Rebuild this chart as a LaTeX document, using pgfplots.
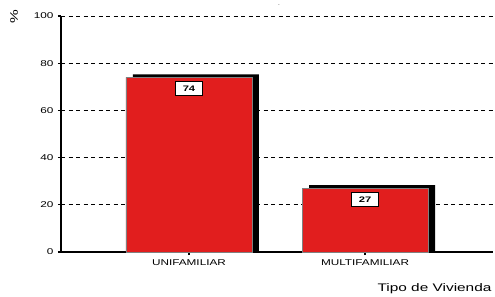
\documentclass[border=0pt]{standalone}
\usepackage{pgfplots}
\pgfplotsset{compat=1.18}
\usepackage{fontspec}
\setmainfont{Liberation Sans}
\newfontfamily\widefont[FakeStretch=1.4]{Liberation Sans}
\definecolor{barred}{RGB}{225,30,30}
\begin{document}
\begin{tikzpicture}
\useasboundingbox (-61pt,-45pt) rectangle (434pt,252pt);
\begin{axis}[
  at={(0pt,0pt)}, anchor=south west,
  scale only axis, width=432pt, height=236pt,
  xmin=-0.727, xmax=1.727, ymin=0, ymax=100,
  axis x line=bottom, axis y line=left,
  axis line style={-, line width=1.3pt, black},
  xtick={0,1}, xticklabels={UNIFAMILIAR,MULTIFAMILIAR},
  ytick={0,20,40,60,80,100},
  tick align=outside, major tick length=3pt,
  tick style={black, line width=1.3pt},
  ymajorgrids, grid style={black, dash pattern=on 4pt off 3.5pt, line width=0.6pt},
  tick label style={font=\widefont\fontsize{8.4}{9}\selectfont},
  /pgf/number format/assume math mode=true,
  yticklabel style={xshift=-1pt},
  xticklabel style={yshift=-1pt},
  ybar, bar width=126pt,
  clip=false,
]
\addplot[fill=black, draw=none, bar shift=7pt] coordinates {(0,75.3) (1,28.3)};
\addplot[fill=barred, draw=gray, line width=0.7pt, bar shift=0pt,
  nodes near coords,
  every node near coord/.append style={anchor=north, yshift=-4pt, fill=white, draw=black,
    line width=0.8pt, minimum width=27pt, minimum height=14pt, inner sep=1pt,
    font=\widefont\bfseries\fontsize{8}{9}\selectfont, text=black}
] coordinates {(0,74) (1,27)};
\end{axis}
\node[rotate=90, font=\widefont\fontsize{11}{12}\selectfont] at (-47pt,235pt) {\%};
\node[font=\widefont\fontsize{11}{12}\selectfont] at (373.5pt,-37pt) {Tipo de Vivienda};
\node[font=\fontsize{8}{9}\selectfont, text=gray] at (218pt,247pt) {.};
\end{tikzpicture}
\end{document}
